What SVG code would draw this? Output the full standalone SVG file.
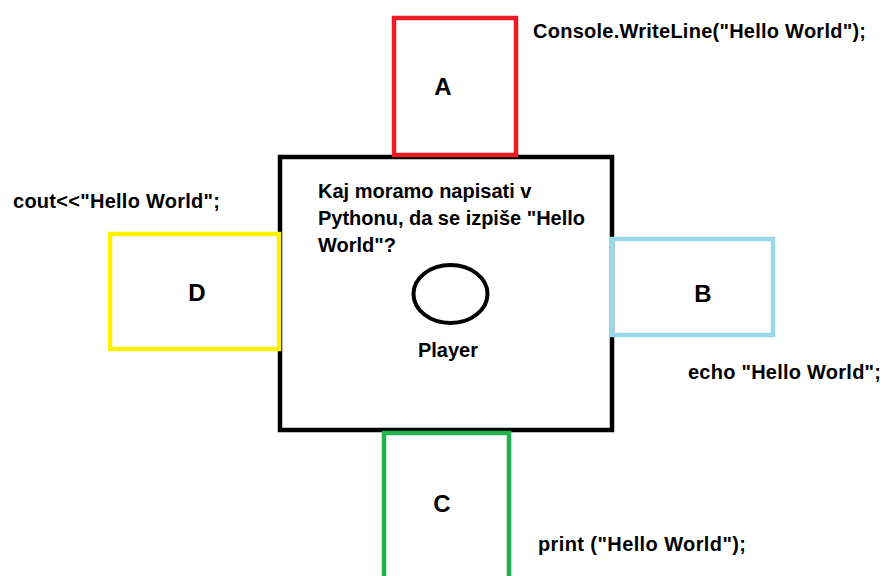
<svg xmlns="http://www.w3.org/2000/svg" width="883" height="576" viewBox="0 0 883 576">
<style>
  .box { fill: none; stroke-width: 4.5; }
  .t { font-family: "Liberation Sans", Arial, sans-serif; font-weight: bold; font-size: 20px; fill: #000; }
  .big { font-size: 24px; text-anchor: middle; }
</style>
<rect width="883" height="576" fill="#fff"/>
<g id="main">
  <rect x="280" y="157" width="332" height="273" fill="#fff" stroke="#000" stroke-width="4.5"/>
  <text class="t" x="318" y="198">Kaj moramo napisati v</text>
  <text class="t" x="318" y="225" textLength="267">Pythonu, da se izpiše "Hello</text>
  <text class="t" x="318" y="252">World"?</text>
</g>
<g id="player">
  <ellipse cx="450.5" cy="294" rx="37" ry="29" fill="none" stroke="#000" stroke-width="4"/>
  <text class="t" x="448" y="357" text-anchor="middle" font-size="19">Player</text>
</g>
<g id="A">
  <rect class="box" x="394" y="18" width="122" height="137" stroke="#ED1C24"/>
  <text class="t big" x="443" y="95">A</text>
  <text class="t" x="533" y="38" textLength="333">Console.WriteLine("Hello World");</text>
</g>
<g id="B">
  <rect class="box" x="612" y="239" width="161" height="96" stroke="#99D9EA"/>
  <text class="t big" x="703" y="302">B</text>
  <text class="t" x="688" y="379" textLength="193">echo "Hello World";</text>
</g>
<g id="C">
  <rect class="box" x="384" y="433" width="125" height="160" stroke="#22B14C"/>
  <text class="t big" x="442" y="512">C</text>
  <text class="t" x="538" y="551" textLength="208">print ("Hello World");</text>
</g>
<g id="D">
  <rect class="box" x="110" y="234" width="169" height="115" stroke="#FFF200"/>
  <text class="t big" x="197" y="301">D</text>
  <text class="t" x="13" y="208" textLength="207">cout&lt;&lt;"Hello World";</text>
</g>
<g id="connectors"></g>
</svg>
